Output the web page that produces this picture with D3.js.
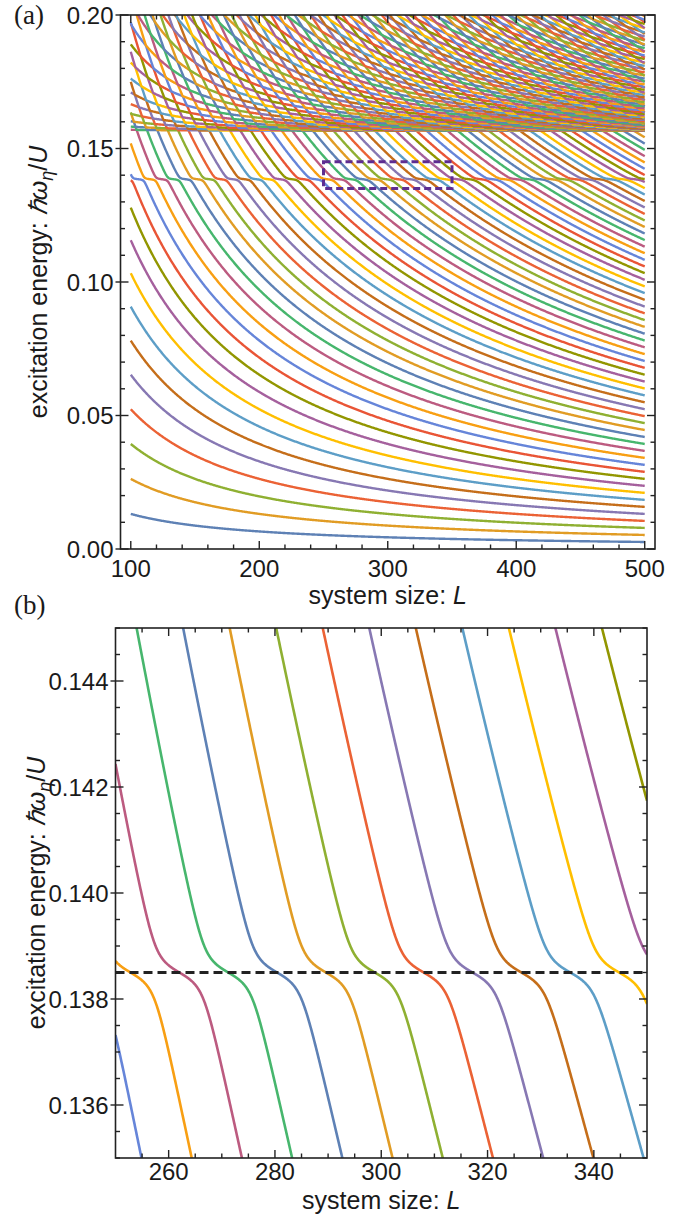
<!DOCTYPE html>
<html>
<head>
<meta charset="utf-8">
<script src="https://cdn.jsdelivr.net/npm/d3@7"></script>
<style>
  body { margin: 0; background: #fff; }
  svg { display: block; font-family: "Liberation Sans", Arial, sans-serif; }
  .tick-label { font-size: 24px; fill: #1a1a1a; }
  .axis-title { font-size: 25px; fill: #1a1a1a; }
  .panel-tag { font-family: "Liberation Serif", "Times New Roman", serif; font-size: 27px; fill: #1a1a1a; }
</style>
</head>
<body>
<svg id="fig" width="689" height="1215"></svg>
<script>
// Mathematica default plot colours, one per eigenvalue index (cycle of 15)
const palette = ["#5E81B5", "#E19C24", "#8FB032", "#EB6235", "#8778B3", "#C56E1A", "#5D9EC7",
  "#FFBF00", "#A5609D", "#929600", "#E95536", "#6685D9", "#F89F13", "#BC5B80", "#47B66D"];

// panel (a)
const sizeRangeA = [100, 500];
const energyRangeA = [0, 0.2];
const sizeTicksA = [100, 200, 300, 400, 500];
const energyTicksA = [0, 0.05, 0.10, 0.15, 0.20];
// panel (b) = the dashed box of (a)
const sizeRangeB = [250, 350];
const energyRangeB = [0.135, 0.145];
const sizeTicksB = [260, 280, 300, 320, 340];
const energyTicksB = [0.136, 0.138, 0.140, 0.142, 0.144];

// spectrum
const lowBranch = [0.4186, 1.71];      // velocity (E1 = 0.0131 at L=100), bending of k(E)
const boundState = [0.1385, 0.0002];   // flat level and its width
const bandEdge = [0.1566, 4.0];        // edge of the upper band, curvature

const kOf = E => E / lowBranch[0] * (1 + lowBranch[1] * E * E);
const phaseOf = E => Math.PI / 2 + Math.atan((E - boundState[0]) / boundState[1]);

// n-th level of the low branch: L k(E) + phase(E) = pi n
function lowLevel(n, L) {
  let lo = 0, hi = 0.3;
  const target = Math.PI * n;
  for (let i = 0; i < 46; i++) {
    const mid = (lo + hi) / 2;
    if (L * kOf(mid) + phaseOf(mid) < target) lo = mid; else hi = mid;
  }
  return (lo + hi) / 2;
}

// sorted eigenvalues -> one polyline per index, like the original plot
function spectrum(Ls, eMax, withBand) {
  const series = [];
  Ls.forEach(L => {
    const vals = [];
    for (let n = 1; n < 400; n++) {
      const e = lowLevel(n, L);
      if (e > eMax) break;
      vals.push(e);
    }
    if (withBand) {
      for (let m = 1; m < 400; m++) {
        const e = bandEdge[0] + bandEdge[1] * m * m / (L * L);
        if (e > eMax) break;
        vals.push(e);
      }
    }
    vals.sort((a, b) => a - b);
    vals.forEach((e, j) => {
      if (!series[j]) series[j] = [];
      series[j].push([L, e]);
    });
  });
  return series;
}

const svg = d3.select("#fig");

function drawPanel(o) {
  const { x, y, id } = o;
  const [x0, x1] = x.range(), [y0, y1] = y.range();
  const g = svg.append("g");

  g.append("clipPath").attr("id", id)
    .append("rect").attr("x", x0).attr("y", y1).attr("width", x1 - x0).attr("height", y0 - y1);

  const line = d3.line().x(d => x(d[0])).y(d => y(d[1]));
  const curves = g.append("g").attr("clip-path", `url(#${id})`)
    .attr("fill", "none").attr("stroke-width", o.lw).attr("stroke-linejoin", "round");
  o.series.forEach((s, j) => {
    if (!s || s.length < 2) return;
    curves.append("path").attr("d", line(s))
      .attr("stroke", palette[(o.indexOf(j)) % 15]);
  });
  if (o.extra) o.extra(g, curves);

  // frame
  g.append("rect").attr("x", x0).attr("y", y1).attr("width", x1 - x0).attr("height", y0 - y1)
    .attr("fill", "none").attr("stroke", "#222").attr("stroke-width", 1.6);

  const tk = g.append("g").attr("stroke", "#222").attr("stroke-width", 1.4);
  const inX = v => v > x.domain()[0] && v < x.domain()[1];
  const inY = v => v >= y.domain()[0] - 1e-9 && v <= y.domain()[1] + 1e-9;
  o.xMinor.filter(inX).forEach(v => {
    const big = o.xMajor.some(m => Math.abs(m - v) < 1e-9), len = big ? 8 : 4.5;
    tk.append("line").attr("x1", x(v)).attr("x2", x(v)).attr("y1", y0).attr("y2", y0 - len);
    tk.append("line").attr("x1", x(v)).attr("x2", x(v)).attr("y1", y1).attr("y2", y1 + len);
  });
  o.yMinor.filter(inY).forEach(v => {
    const big = o.yMajor.some(m => Math.abs(m - v) < 1e-9), len = big ? 8 : 4.5;
    tk.append("line").attr("x1", x0 - (big ? 5 : 0)).attr("x2", x0 + len).attr("y1", y(v)).attr("y2", y(v));
    tk.append("line").attr("x1", x1).attr("x2", x1 - len).attr("y1", y(v)).attr("y2", y(v));
  });

  g.selectAll("text.xl").data(o.xMajor).join("text").attr("class", "tick-label")
    .attr("x", d => x(d)).attr("y", o.xLabelY).attr("text-anchor", "middle").text(d => d);
  g.selectAll("text.yl").data(o.yMajor).join("text").attr("class", "tick-label")
    .attr("x", x0 - 7).attr("y", d => y(d) + 8.5).attr("text-anchor", "end").text(o.yFmt);

  const xt = g.append("text").attr("class", "axis-title")
    .attr("x", (x0 + x1) / 2).attr("y", o.xTitleY).attr("text-anchor", "middle");
  xt.append("tspan").text("system size: ");
  xt.append("tspan").attr("font-style", "italic").text("L");

  const yt = g.append("text").attr("class", "axis-title").attr("text-anchor", "middle")
    .attr("transform", `translate(${o.yTitleX},${(y0 + y1) / 2}) rotate(-90)`);
  yt.append("tspan").text("excitation energy: ");
  yt.append("tspan").attr("font-style", "italic").text("ℏω");
  yt.append("tspan").attr("font-style", "italic").attr("font-size", "18px").attr("dy", 6).text("η");
  yt.append("tspan").attr("dy", -6).text("/");
  yt.append("tspan").attr("font-style", "italic").text("U");

  svg.append("text").attr("class", "panel-tag").attr("x", 14).attr("y", o.tagY).text(o.tag);
}

// ---- panel (a)
const xA = d3.scaleLinear().domain([92, 508]).range([120.5, 655]);
const yA = d3.scaleLinear().domain(energyRangeA).range([549, 15]);
const seriesA = spectrum(d3.range(sizeRangeA[0], sizeRangeA[1] + 1e-6, 0.5), 0.206, true);

drawPanel({
  id: "clipA", x: xA, y: yA, series: seriesA, lw: 2.4, indexOf: j => j,
  xMajor: sizeTicksA, xMinor: d3.range(100, 501, 20),
  yMajor: energyTicksA, yMinor: d3.range(0, 0.2001, 0.01).map(v => +v.toFixed(2)),
  yFmt: d => d.toFixed(2), xLabelY: 577, xTitleY: 604, yTitleX: 47, tag: "(a)", tagY: 24,
  extra: (g) => {
    g.append("rect")
      .attr("x", xA(sizeRangeB[0])).attr("y", yA(energyRangeB[1]))
      .attr("width", xA(sizeRangeB[1]) - xA(sizeRangeB[0]))
      .attr("height", yA(energyRangeB[0]) - yA(energyRangeB[1]))
      .attr("fill", "none").attr("stroke", "#5E2D91").attr("stroke-width", 3)
      .attr("stroke-dasharray", "7,4");
  }
});

// ---- panel (b)
const xB = d3.scaleLinear().domain(sizeRangeB).range([115.5, 647]);
const yB = d3.scaleLinear().domain(energyRangeB).range([1158, 628]);
const LsB = d3.range(sizeRangeB[0], sizeRangeB[1] + 1e-6, 0.05);
const firstN = 20;
const seriesB = d3.range(firstN, 46).map(n => LsB.map(L => [L, lowLevel(n, L)]));

drawPanel({
  id: "clipB", x: xB, y: yB, series: seriesB, lw: 2.6, indexOf: j => j + firstN - 1,
  xMajor: sizeTicksB, xMinor: d3.range(250, 351, 5),
  yMajor: energyTicksB, yMinor: d3.range(0.135, 0.14501, 0.0005).map(v => +v.toFixed(4)),
  yFmt: d => d.toFixed(3), xLabelY: 1180, xTitleY: 1209, yTitleX: 45, tag: "(b)", tagY: 614,
  extra: (g, curves) => {
    curves.append("line")
      .attr("x1", xB(sizeRangeB[0])).attr("x2", xB(sizeRangeB[1]))
      .attr("y1", yB(boundState[0])).attr("y2", yB(boundState[0]))
      .attr("stroke", "#222").attr("stroke-width", 3).attr("stroke-dasharray", "9,5");
  }
});
</script>
</body>
</html>
